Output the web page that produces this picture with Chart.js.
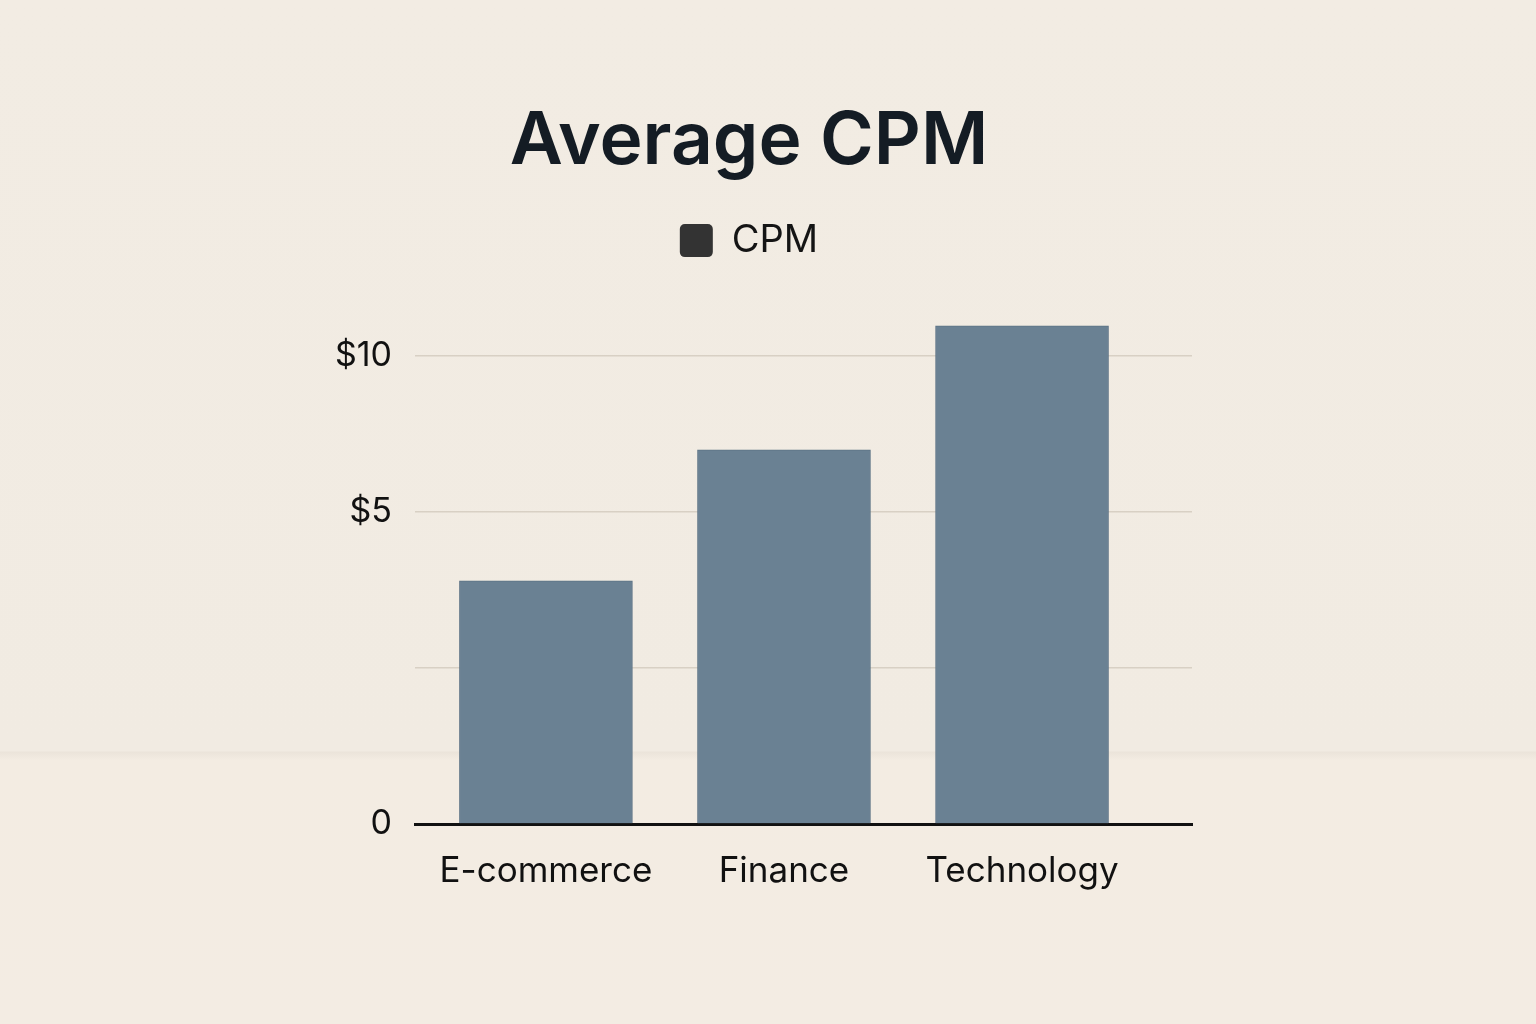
<!DOCTYPE html>
<html>
<head>
<meta charset="utf-8">
<script src="https://cdn.jsdelivr.net/npm/chart.js@4"></script>
<style>
  html, body { margin: 0; padding: 0; }
  body {
    width: 1536px;
    height: 1024px;
    background: linear-gradient(to bottom, #f2ece3 0px, #f1ebe2 751px, #ebe4da 752px, #f3ece2 760px, #f3ece3 1024px);
  }
  #wrap { position: absolute; left: 0; top: 0; width: 1536px; height: 1024px; }
</style>
</head>
<body>
<div id="wrap"><canvas id="cpm-chart" width="1536" height="1024"></canvas></div>
<script>
const categories = ['E-commerce', 'Finance', 'Technology'];
const cpmValues = [5.2, 8.0, 10.65];
const yTickValues = [0, 3.33, 6.67, 10];
const yTickLabels = ['0', '', '$5', '$10'];

const ctx = document.getElementById('cpm-chart').getContext('2d');

// bars sit at x = 0, 1, 2 on a linear scale so the spacing can match the picture
const barPoints = cpmValues.map((v, i) => ({ x: i, y: v }));

new Chart(ctx, {
    type: 'bar',
    data: {
        datasets: [
            {
                label: 'CPM',
                data: barPoints,
                backgroundColor: '#6a8193',
                borderColor: '#5d7385',
                borderWidth: 1,
                barThickness: 173,
            },
        ],
    },
    options: {
        responsive: false,
        animation: false,
        layout: {
            padding: { top: 0, left: 306, right: 344, bottom: 114 },
        },
        plugins: {
            title: {
                display: true,
                text: 'Average CPM',
                color: '#141c24',
                font: { family: 'Inter', size: 73, weight: 600 },
                padding: { top: 98, bottom: 26 },
            },
            legend: {
                display: true,
                labels: {
                    color: '#141414',
                    font: { family: 'Inter', size: 38 },
                    boxWidth: 33,
                    boxHeight: 33,
                    useBorderRadius: true,
                    borderRadius: 5,
                    generateLabels: (chart) => {
                        const items = Chart.defaults.plugins.legend.labels.generateLabels(chart);
                        items.forEach(item => {
                            item.fillStyle = '#333333';
                            item.strokeStyle = '#333333';
                            item.lineWidth = 0;
                        });
                        return items;
                    },
                },
            },
            tooltip: { enabled: false },
        },
        scales: {
            x: {
                type: 'linear',
                offset: false,
                min: -0.55,
                max: 2.714,
                afterBuildTicks: (scale) => {
                    scale.ticks = categories.map((c, i) => ({ value: i }));
                },
                grid: { display: false, offset: false },
                border: { display: true, color: '#111111', width: 3 },
                ticks: {
                    color: '#111111',
                    font: { family: 'Inter', size: 35 },
                    padding: 18,
                    callback: (value) => categories[value],
                },
            },
            y: {
                min: 0,
                max: 11.85,
                afterBuildTicks: (scale) => {
                    scale.ticks = yTickValues.map(v => ({ value: v }));
                },
                afterFit: (scale) => {
                    scale.width = 109;
                },
                grid: {
                    color: '#d8d0c4',
                    lineWidth: 1.5,
                    drawTicks: false,
                },
                border: { display: false },
                ticks: {
                    color: '#111111',
                    font: { family: 'Inter', size: 34 },
                    padding: 23,
                    callback: (value, index) => yTickLabels[index],
                },
            },
        },
    },
});
</script>
</body>
</html>
